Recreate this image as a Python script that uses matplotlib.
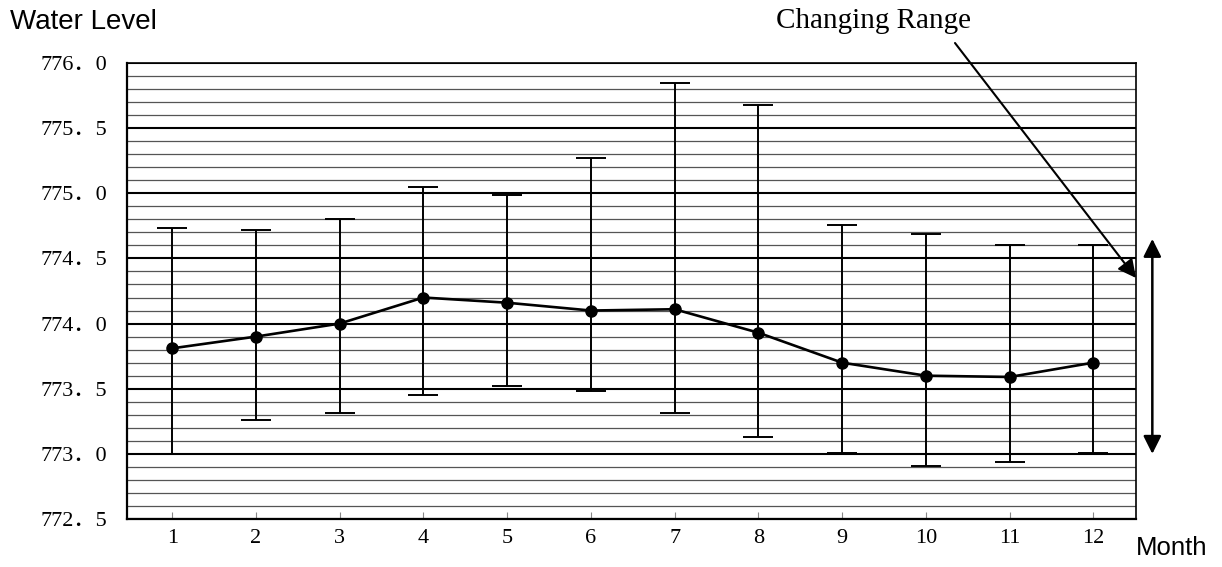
import matplotlib.pyplot as plt
from matplotlib.ticker import MultipleLocator

months = [1, 2, 3, 4, 5, 6, 7, 8, 9, 10, 11, 12]
mean_level = [773.81, 773.90, 774.00, 774.20, 774.16, 774.10, 774.11, 773.93, 773.70, 773.60, 773.59, 773.70]
max_level = [774.73, 774.72, 774.80, 775.05, 774.99, 775.27, 775.85, 775.68, 774.76, 774.69, 774.60, 774.60]
min_level = [773.00, 773.26, 773.31, 773.45, 773.52, 773.48, 773.31, 773.13, 773.01, 772.91, 772.94, 773.01]
y_ticks = [772.5, 773.0, 773.5, 774.0, 774.5, 775.0, 775.5, 776.0]
range_top, range_bottom = 774.65, 773.0

serif = ['Liberation Serif', 'Noto Sans CJK JP']

fig = plt.figure(figsize=(12.22, 5.67), dpi=100)
ax = fig.add_axes([127 / 1222, 1 - 519 / 567, (1136 - 127) / 1222, (519 - 63) / 567])

ax.set_xlim(0.46, 12.51)
ax.set_ylim(772.5, 776.0)
ax.yaxis.set_minor_locator(MultipleLocator(0.1))
ax.grid(which='major', axis='y', color='black', lw=1.5)
ax.grid(which='minor', axis='y', color='#555555', lw=0.9)
ax.set_axisbelow(True)

err_lo = [m - lo for m, lo in zip(mean_level, min_level)]
err_hi = [hi - m for m, hi in zip(mean_level, max_level)]
ax.errorbar(months, mean_level, yerr=[err_lo, err_hi], fmt='none', ecolor='black',
            elinewidth=1.4, capsize=10.8, capthick=1.4, zorder=3)
ax.plot(months, mean_level, color='black', lw=1.9, marker='o', ms=8, zorder=4)

ax.set_xticks(months)
ax.set_xticklabels([str(m) for m in months], family=serif, fontsize=16)
ax.set_yticks(y_ticks)
ax.set_yticklabels([f"{v:.1f}".replace('.', '．') for v in y_ticks], family=serif, fontsize=16)
ax.tick_params(axis='x', which='major', direction='in', length=5, color='#888888', pad=7)
ax.tick_params(axis='y', which='both', length=0, pad=14)

for side in ['left', 'bottom']:
    ax.spines[side].set_linewidth(1.6)
for side in ['top', 'right']:
    ax.spines[side].set_linewidth(1.2)

fig.text(10 / 1222, 1 - 22 / 567, 'Water Level', family='Liberation Sans', fontsize=20,
         ha='left', va='center')
fig.text(1136 / 1222, 1 - 548 / 567, 'Month', family='Liberation Sans', fontsize=18.5,
         ha='left', va='center')
fig.text(873 / 1222, 1 - 21 / 567, 'Changing Range', family='Liberation Serif', fontsize=21,
         ha='center', va='center')

# arrow from label to right edge
ax.annotate('', xy=(12.51, 774.35), xycoords='data', xytext=(955, 567 - 43),
            textcoords='figure pixels', annotation_clip=False,
            arrowprops=dict(arrowstyle='-|>,head_length=0.55,head_width=0.28', lw=1.5,
                            color='black', shrinkA=0, shrinkB=0, mutation_scale=20))
# double-headed range arrow
ax.annotate('', xy=(12.705, range_top), xytext=(12.705, range_bottom), annotation_clip=False,
            arrowprops=dict(arrowstyle='<|-|>,head_length=0.54,head_width=0.27', lw=1.8,
                            color='black', shrinkA=0, shrinkB=0, mutation_scale=20))

fig.savefig('out.png', dpi=100, facecolor='white')
